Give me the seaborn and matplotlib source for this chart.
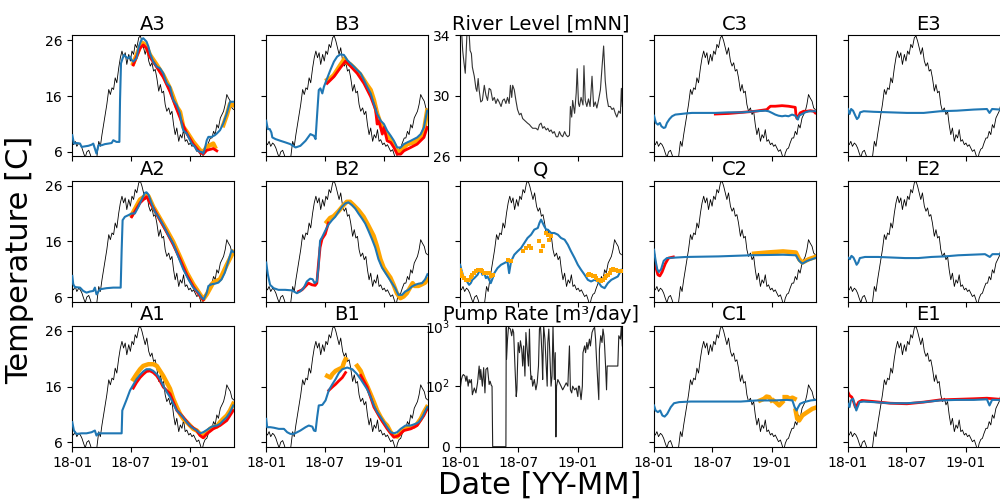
import numpy as np
import pandas as pd
import matplotlib
matplotlib.use("Agg")
import matplotlib.pyplot as plt
import matplotlib.dates as mdates
import matplotlib.ticker as mticker
import seaborn as sns

START = pd.Timestamp("2018-01-01")
END = pd.Timestamp("2019-05-17")

# ---------------- data (day offsets from 2018-01-01) ----------------
air_days = [0,4,9,14,20,25,30,35,40,45,51,56,61,66,71,76,82,87,92,97,102,107,113,118,123,128,133,138,144,149,
            154,159,164,169,175,180,185,190,195,200,206,211,216,221,226,231,237,242,247,252,257,262,268,273,278,283,288,293,299,304,
            309,314,319,324,330,335,340,345,350,355,361,366,371,376,381,386,392,397,402,407,412,417,422,428,433,438,443,448,453,459,
            464,469,474,479,484,490,495,500]
air_temp = [7.6,7.3,7.9,7.0,7.6,7.3,6.7,5.8,5.0,6.0,6.3,5.5,4.5,3.5,4.0,5.0,7.9,7.0,9.1,10.9,12.7,14.5,17.2,16.3,17.5,17.2,19.3,18.4,21.1,22.9,
            24.1,22.9,23.8,21.7,23.5,22.3,24.1,23.5,25.3,24.7,26.5,26.8,25.9,24.7,23.5,24.7,22.3,21.4,22.0,20.5,20.8,19.3,16.9,18.1,16.6,16.9,14.5,13.3,13.9,12.7,
            13.3,10.9,9.1,10.3,7.9,9.1,8.5,10.0,7.9,8.2,7.3,7.6,7.0,7.3,6.7,6.1,6.4,5.5,4.5,5.8,6.5,6.7,7.6,8.5,8.5,9.7,9.1,10.9,10.3,12.1,
            12.7,13.3,14.5,16.3,15.7,15.1,13.9,13.6]

river_days = [0,4,8,12,16,20,23,27,31,35,38,44,49,52,56,59,64,69,75,80,85,90,95,101,106,111,116,121,127,132,137,142,147,152,156,160,163,168,173,178,
              184,189,194,199,204,209,215,220,225,230,235,241,246,251,256,261,267,272,277,282,287,292,298,303,308,313,318,324,329,334,339,342,346,349,355,360,363,367,370,375,
              381,384,388,393,398,403,409,414,419,424,429,435,440,445,450,455,460,466,471,476,481,486,492,497,500,503]
river_level = [35.5,34.5,33.0,32.2,31.5,33.5,35.0,34.5,33.0,32.8,31.9,31.3,30.5,30.3,31.15,30.4,29.6,29.7,30.7,30.05,29.7,30.5,30.4,29.7,29.9,29.5,29.8,29.6,29.3,29.7,29.8,29.5,29.9,29.5,30.7,29.9,30.7,30.4,29.7,29.1,
               28.75,28.85,28.5,28.4,28.3,28.2,28.1,27.97,27.86,27.86,27.86,27.75,28.1,28.2,27.86,27.97,27.75,27.86,27.64,27.75,27.53,27.64,27.3,27.3,27.64,27.4,27.3,27.64,27.4,27.3,27.4,29.3,28.6,29.7,28.85,30.2,31.8,29.5,29.3,29.9,
               29.4,32.0,29.7,29.3,29.8,29.3,31.3,29.3,29.6,29.2,29.7,30.4,31.9,33.3,31.0,29.9,29.3,29.3,29.1,29.2,28.85,28.6,29.0,28.85,30.5,29.3]

pump_days = [0,4,7,10,15,18,21,25,28,31,35,38,44,49,54,59,62,64,69,73,77,80,85,90,93,97,99,101,142,143,144,147,150,156,160,163,166,170,174,176,
             180,184,187,191,194,197,201,204,207,212,215,218,220,222,225,230,235,239,243,246,249,251,254,256,259,263,267,270,272,275,278,282,285,288,292,295,297,299,303,308,
             313,318,324,329,334,339,342,346,349,355,360,365,367,370,375,379,381,386,389,393,396,401,404,409,413,417,420,423,427,430,432,436,440,443,446,448,451,454,456,489,
             492,497,500,503]
pump_rate = [93,126,144,153,144,118,144,99,126,111,126,85,96,88,111,212,126,186,99,199,88,186,199,104,118,100,99,0,0,940,274,597,940,880,680,880,770,212,82,93,
             525,355,560,405,212,460,144,770,460,212,880,186,126,144,99,126,93,111,212,880,1000,680,312,126,1000,597,212,99,525,880,355,99,144,1000,126,355,16,99,126,111,
             99,93,99,111,99,460,93,88,99,93,96,82,99,99,77,99,355,460,355,525,405,597,460,770,880,940,597,274,111,77,405,680,525,880,680,460,212,93,212,212,
             680,597,1000,460]

# A3
a3_blue_days = [0,5,13,24,29,39,50,60,65,70,75,81,91,101,112,122,127,137,146,148,151,156,160,166,172,179,184,189,194,199,205,210,215,220,225,230,236,241,251,262,
                272,282,293,303,308,313,324,334,339,344,349,355,360,365,370,375,380,386,396,401,406,411,417,422,432,442,448,458,468,479,489,499]
a3_blue_temp = [9.0,7.5,7.6,7.5,6.9,7.0,7.1,7.3,7.5,6.6,5.7,7.2,7.2,7.4,7.5,7.6,8.1,7.8,7.8,15.3,21.9,22.8,23.4,23.1,22.8,23.1,22.5,22.2,22.5,22.8,24.6,25.5,26.2,26.4,26.1,25.8,24.9,23.7,22.2,21.3,
                21.0,20.1,18.3,17.7,16.5,15.3,14.4,12.9,11.1,9.9,9.6,9.3,8.7,8.1,7.5,7.2,6.9,6.3,6.0,6.0,5.7,6.6,8.1,8.7,8.7,9.0,9.3,9.9,11.1,12.9,15.0,15.0]
a3_orange_days = [189,210,220,230,241,262,282,303,324,334,344,355,375,396,406,417,437,442,
                  468,479,489,499]
a3_orange_temp = [21.9,24.9,25.5,24.9,23.4,21.6,19.8,17.4,14.1,13.2,10.5,9.6,7.8,6.3,6.0,6.9,7.5,6.9,
                  10.8,12.6,14.6,14.4]
a3_orange_seg = [1]*18 + [2]*4
a3_red_days = [189,210,220,230,241,262,282,303,324,339,355,375,396,406,417,437,448]
a3_red_temp = [21.6,24.6,25.2,24.6,23.0,21.2,19.4,16.8,13.6,11.4,9.3,7.4,5.9,5.6,6.3,6.6,6.2]

# A2
a2_blue_days = [0,3,8,24,34,44,55,65,70,75,86,106,127,150,153,156,163,174,184,194,205,215,225,230,236,246,256,267,282,298,
                313,329,344,360,375,391,401,408,417,422,432,442,453,463,473,484,494,499]
a2_blue_temp = [9.8,8.3,7.8,7.7,7.1,6.8,7.0,7.1,7.7,6.5,7.4,7.6,7.7,7.7,14.4,19.8,20.4,20.7,21.0,21.0,22.2,23.5,24.7,24.8,24.4,22.8,21.3,20.4,18.9,17.1,
                15.6,13.2,11.0,9.2,7.7,6.8,5.9,5.6,6.8,8.0,8.3,8.4,8.6,9.2,10.4,12.5,14.4,14.1]
a2_orange_days = [184,210,225,236,251,272,293,313,334,355,375,396,406,417,437,458,479,499]
a2_orange_temp = [20.7,23.5,24.1,24.1,22.2,20.1,18.0,15.9,13.2,10.4,8.3,6.5,5.6,6.5,8.6,9.2,11.8,14.1]
a2_red_days = [184,210,230,251,272,293,313,334,355,375,396,406]
a2_red_temp = [20.4,22.9,24.0,22.0,19.8,17.6,15.4,12.8,10.0,7.9,6.2,5.5]

# A1
a1_blue_days = [0,5,13,29,44,60,70,75,81,106,132,148,153,155,168,179,189,199,210,220,230,241,251,262,272,282,293,303,313,324,
                339,355,370,386,396,406,417,432,448,458,468,479,489,499]
a1_blue_temp = [9.6,8.1,7.5,7.6,7.6,7.8,8.1,7.2,7.6,7.6,7.6,7.6,7.6,11.7,13.6,15.3,16.3,17.3,18.1,18.7,19.1,19.1,18.8,18.2,17.3,16.1,15.0,14.1,12.9,11.7,
                10.8,9.6,8.7,8.1,7.6,7.8,8.2,8.8,9.0,9.3,9.9,10.5,11.4,12.6]
a1_orange_days = [189,199,210,220,236,251,262,272,282,293,303,313,324,334,344,355,365,375,386,396,406,417,427,437,448,458,468,479,489,499]
a1_orange_temp = [17.3,18.2,19.1,19.7,20.0,20.0,19.7,18.8,17.9,16.7,15.6,13.8,12.3,11.1,10.2,9.6,9.0,8.4,8.1,7.5,7.0,7.8,8.4,8.7,8.8,9.6,10.2,10.8,11.7,12.9]
a1_red_days = [189,199,210,220,230,241,251,262,272,282,303,324,344,365,386,396,406,417,437,458,479,499]
a1_red_temp = [15.7,16.7,17.6,18.2,18.7,18.8,18.5,17.9,17.0,15.9,14.7,11.7,10.5,9.0,8.1,7.2,6.8,7.5,8.4,9.0,9.9,11.7]

# B3
b3_blue_days = [0,5,11,16,19,29,44,60,75,91,106,122,137,148,153,158,163,168,174,179,189,199,210,220,230,241,251,261,272,282,
                293,303,313,324,334,344,355,365,375,386,396,406,417,427,437,448,458,468,479,489,499]
b3_blue_temp = [11.6,10.1,10.1,9.5,8.6,8.3,8.0,7.7,7.4,6.8,7.1,8.0,9.2,8.9,8.3,12.8,17.1,17.4,16.5,17.7,19.2,20.7,22.2,23.1,23.5,23.4,22.5,21.9,21.3,20.7,
                20.1,18.9,17.7,16.5,14.6,12.8,11.6,11.0,9.8,8.9,8.0,6.8,6.8,7.4,7.7,8.0,8.3,8.6,9.2,10.4,13.4]
b3_orange_days = [189,199,210,220,230,244,251,261,272,282,293,303,313,324,334,344,355,365,375,386,396,406,417,427,437,458,479,489,499]
b3_orange_temp = [18.9,19.2,19.8,20.7,21.6,22.8,22.0,21.7,21.1,20.5,19.8,18.9,18.0,17.1,15.3,12.9,11.0,9.8,9.2,8.3,7.4,6.2,5.9,6.8,7.4,7.7,8.6,9.8,13.4]
b3_red_days = [189,210,230,246,261,282,303,324,339,344,349,360,365,375,386,396,406,417,427,448,468,489,499]
b3_red_temp = [18.3,19.5,21.1,22.3,21.4,20.1,18.3,15.9,13.6,11.0,11.6,9.2,10.4,8.0,7.7,6.8,5.6,5.6,6.2,6.8,7.4,8.6,10.4]

# B2
b2_blue_days = [0,5,12,23,38,59,80,95,105,116,126,136,144,150,157,162,167,173,183,193,204,214,224,235,245,255,266,276,286,297,
                307,317,328,338,348,359,369,379,390,400,410,421,431,441,452,462,472,483,493,500]
b2_blue_temp = [12.2,10.1,8.2,7.6,7.3,7.3,7.2,6.7,7.0,7.6,8.8,9.3,9.2,8.5,8.8,11.3,16.1,16.7,17.9,19.0,19.8,20.4,21.3,22.2,22.8,23.0,22.5,21.9,21.0,20.1,
                19.2,17.9,16.4,14.9,12.8,11.3,10.4,9.5,8.5,7.6,6.4,6.4,7.0,7.3,7.9,8.2,8.4,8.5,9.2,10.1]
b2_red_days = [100,111,121,131,142,152,157,162,167,173,183,193]
b2_red_temp = [7.0,7.3,7.9,8.5,8.2,8.1,8.5,11.9,14.9,16.4,17.3,19.3]
b2_orange_days = [188,198,209,224,240,250,260,271,286,302,317,333,343,354,364,374,385,395,405,416,426,436,447,454,460,472,483,493,498]
b2_orange_temp = [19.5,20.2,20.5,21.4,22.5,23.1,23.1,22.5,21.6,20.4,18.8,17.0,15.2,12.8,11.3,10.4,9.5,8.2,6.7,5.8,6.1,6.7,7.8,8.5,8.0,8.0,8.3,8.6,9.2]

# B1
b1_blue_days = [0,3,13,24,39,55,65,75,86,96,106,122,132,143,148,153,158,163,174,184,194,205,215,225,236,251,267,282,293,303,
                313,324,334,344,355,365,375,386,396,406,417,432,448,463,473,484,494,499]
b1_blue_temp = [10.2,8.7,8.7,8.6,8.4,8.4,7.8,7.5,7.5,7.8,8.1,8.7,9.0,8.8,8.1,8.0,10.5,12.6,12.7,13.5,15.3,16.4,17.3,18.4,19.1,19.4,19.1,18.2,17.3,16.4,
                15.5,14.1,12.6,11.4,10.5,9.6,8.7,7.8,7.6,7.8,8.4,9.0,9.0,9.3,9.6,10.5,11.7,12.3]
b1_orange_days = [189,199,205,215,225,236,241,246,
                  282,293,303,313,324,334,344,355,365,375,386,396,406,417,427,448,458,468,479,489,498]
b1_orange_temp = [17.9,17.6,18.2,18.8,19.1,19.4,20.3,20.9,
                  19.7,18.8,17.3,16.1,14.6,13.2,11.7,10.5,9.6,9.0,7.8,7.2,7.0,7.8,8.4,8.7,8.8,9.3,10.2,11.4,12.3]
b1_orange_seg = [1]*8 + [2]*21
b1_red_days = [194,205,215,225,236,246,
               293,313,334,355,375,396,411,427,448,468,489,499]
b1_red_temp = [15.3,15.9,16.4,17.0,17.6,18.5,
               18.0,15.9,12.3,10.2,8.4,6.9,7.2,8.1,8.4,9.0,10.8,12.0]
b1_red_seg = [1]*6 + [2]*12

# Q
q_blue_days = [0,4,10,18,28,33,38,44,49,54,59,64,69,75,80,85,90,95,101,106,116,127,137,147,152,158,168,178,189,199,
               209,220,230,241,246,251,256,261,267,272,282,292,303,313,324,334,344,355,365,375,386,396,406,417,427,438,448,458,469,479,489,500]
q_blue_temp = [11.8,10.9,9.7,9.1,8.2,8.5,9.1,9.4,9.7,10.0,10.6,10.9,10.0,10.3,9.4,9.7,9.1,8.5,9.4,10.3,11.2,11.8,12.1,12.4,10.3,12.4,13.6,14.2,14.8,15.7,
               16.6,17.2,18.1,18.4,19.3,19.9,19.3,18.7,18.1,18.1,17.5,17.5,17.2,16.6,16.3,15.4,14.2,13.0,11.8,10.9,10.0,9.1,8.8,9.1,8.8,7.9,7.6,8.5,9.1,9.4,9.7,10.9]
q_orange_days = [0,3,7,11,18,23,28,33,38,44,49,54,59,64,69,75,80,85,90,95,101,
                 147,158,194,204,215,220,246,251,256,267,272,277,282,
                 396,401,406,412,417,422,427,433,438,443,448,453,458,464,469,474,479,484,489,495,500]
q_orange_temp = [10.9,10.3,9.7,9.4,9.1,9.0,9.1,9.6,10.0,10.3,10.6,10.8,10.9,10.8,10.6,10.3,10.3,10.4,10.3,9.7,10.0,
                 12.7,12.4,14.2,14.8,15.1,14.8,16.0,14.2,15.1,17.5,17.2,16.3,16.9,
                 10.0,10.1,10.0,9.8,9.7,9.4,9.1,9.0,8.8,9.0,9.4,9.7,10.0,10.4,10.9,11.0,10.9,10.8,10.6,10.6,10.6]

# C3
c3_blue_days = [0,6,12,18,23,30,35,40,48,56,66,82,97,118,149,190,231,273,314,345,355,366,376,386,397,407,417,428,438,443,446,450,459,469,479,500]
c3_blue_temp = [12.5,11.2,10.9,11.2,10.6,10.3,10.4,11.2,11.9,12.4,12.7,12.8,12.9,13.0,13.0,13.0,13.1,13.1,13.3,13.4,13.3,13.0,12.7,12.5,12.4,12.5,12.4,12.7,12.5,12.1,11.8,12.5,12.8,13.1,13.3,13.3]
c3_red_days = [190,231,273,314,350,355,361,376,397,417,438,440,443,448,453,464,474,485,495,500]
c3_red_temp = [12.8,12.9,13.1,13.3,13.6,13.9,14.2,14.2,14.3,14.2,14.0,12.7,12.0,12.4,13.0,13.3,13.3,13.4,13.3,13.0]

# C2
c2_blue_days = [0,5,10,15,22,30,40,100,200,300,400,440,450,460,475,500]
c2_blue_temp = [14.5,12.5,11.0,10.5,11.0,12.5,13.0,13.2,13.3,13.5,13.6,13.5,12.5,12.0,12.5,13.0]
c2_red_days = [0,5,12,18,25,35,45,60]
c2_red_temp = [13.5,11.5,10.0,9.8,10.5,12.0,13.0,13.2]
c2_orange_days = [310,350,400,440,450,460,480,500]
c2_orange_temp = [13.8,14.0,14.2,14.0,12.8,12.2,12.8,13.2]

# C1
c1_blue_days = [0,5,12,19,26,33,41,52,62,78,114,165,217,269,320,372,413,429,436,442,447,453,465,486,501]
c1_blue_temp = [12.6,11.7,11.4,11.7,10.8,10.6,11.1,12.3,13.0,13.2,13.3,13.3,13.3,13.3,13.5,13.5,13.6,13.5,12.3,11.7,12.3,12.9,13.2,13.5,13.6]
c1_orange_days = [329,341,349,357,364, 370,377,388,398, 405,413,421,429,436, 439,444,450,460,475,491,501]
c1_orange_temp = [13.5,13.8,14.2,14.1,13.5, 13.5,13.2,12.6,13.2, 14.1,14.1,13.8,14.0,13.8, 11.7,10.2,9.9,10.8,11.4,12.0,12.2]
c1_orange_seg = [1]*5 + [2]*4 + [3]*5 + [4]*7

# E3, E2, E1
e3_blue_days = [0,5,10,16,23,28,33,38,49,80,131,183,235,286,338,390,431,439,447,472,500]
e3_blue_temp = [13.7,12.8,13.7,13.4,12.5,11.9,12.2,13.1,13.3,13.2,13.1,13.0,13.0,13.3,13.4,13.6,13.7,13.0,13.7,13.6,13.6]
e2_blue_days = [0,6,11,17,22,27,32,37,53,94,135,177,218,259,301,342,383,425,440,448,472,500]
e2_blue_temp = [13.1,12.8,13.4,13.1,12.5,11.8,12.2,13.0,13.2,13.2,13.1,13.0,13.0,13.2,13.3,13.5,13.6,13.7,13.2,13.7,13.7,13.7]
e1_blue_days = [0,5,9,16,20,26,30,36,49,80,131,183,235,286,338,390,431,439,447,472,500]
e1_blue_temp = [12.9,12.3,13.5,13.8,12.9,11.7,12.3,13.2,13.3,13.2,13.0,13.0,13.2,13.5,13.6,13.6,13.7,12.6,13.6,13.6,13.6]
e1_red_days = [0,5,12,18,23,28,33,43,80,131,183,235,286,338,390,431,452,472,500]
e1_red_temp = [15.0,14.4,14.1,13.2,12.3,12.6,13.2,13.5,13.3,13.0,12.9,13.2,13.6,13.7,13.8,13.9,13.8,13.7,13.7]

titles = [["A3", "B3", "River Level [mNN]", "C3", "E3"],
          ["A2", "B2", "Q", "C2", "E2"],
          ["A1", "B1", "Pump Rate [m\u00b3/day]", "C1", "E1"]]
temp_ticks = [6, 16, 26]
river_ticks = [26, 30, 34]
pump_ticks = [0, 100, 1000]
date_ticks = ["2018-01-01", "2018-07-01", "2019-01-01"]

BLUE = "#1f77b4"
ORANGE = "orange"
RED = "red"


def dates(days):
    return START + pd.to_timedelta(np.asarray(days), unit="D")


def line(ax, days, vals, color, lw, units=None, z=2):
    df = pd.DataFrame({"date": dates(days), "val": vals})
    if units is not None:
        df["seg"] = units
        sns.lineplot(data=df, x="date", y="val", units="seg", estimator=None, sort=False,
                     color=color, linewidth=lw, ax=ax, legend=False, zorder=z)
    else:
        sns.lineplot(data=df, x="date", y="val", estimator=None, sort=False,
                     color=color, linewidth=lw, ax=ax, legend=False, zorder=z)


fig, axes = plt.subplots(3, 5, figsize=(10, 4.99), dpi=100)
fig.subplots_adjust(left=0.0723, right=1.0095, bottom=0.1048, top=0.929, wspace=0.2, hspace=0.2)

series = {
    (0, 0): dict(blue=(a3_blue_days, a3_blue_temp), orange=(a3_orange_days, a3_orange_temp, a3_orange_seg),
                 red=(a3_red_days, a3_red_temp)),
    (1, 0): dict(blue=(a2_blue_days, a2_blue_temp), orange=(a2_orange_days, a2_orange_temp), red=(a2_red_days, a2_red_temp)),
    (2, 0): dict(blue=(a1_blue_days, a1_blue_temp), orange=(a1_orange_days, a1_orange_temp), red=(a1_red_days, a1_red_temp)),
    (0, 1): dict(blue=(b3_blue_days, b3_blue_temp), orange=(b3_orange_days, b3_orange_temp), red=(b3_red_days, b3_red_temp)),
    (1, 1): dict(blue=(b2_blue_days, b2_blue_temp), orange=(b2_orange_days, b2_orange_temp), red=(b2_red_days, b2_red_temp)),
    (2, 1): dict(blue=(b1_blue_days, b1_blue_temp), orange=(b1_orange_days, b1_orange_temp, b1_orange_seg),
                 red=(b1_red_days, b1_red_temp, b1_red_seg)),
    (0, 3): dict(blue=(c3_blue_days, c3_blue_temp), red=(c3_red_days, c3_red_temp)),
    (1, 3): dict(blue=(c2_blue_days, c2_blue_temp), orange=(c2_orange_days, c2_orange_temp), red=(c2_red_days, c2_red_temp)),
    (2, 3): dict(blue=(c1_blue_days, c1_blue_temp), orange=(c1_orange_days, c1_orange_temp, c1_orange_seg)),
    (0, 4): dict(blue=(e3_blue_days, e3_blue_temp)),
    (1, 4): dict(blue=(e2_blue_days, e2_blue_temp)),
    (2, 4): dict(blue=(e1_blue_days, e1_blue_temp), red=(e1_red_days, e1_red_temp)),
}

for r in range(3):
    for c in range(5):
        ax = axes[r, c]
        if (r, c) == (0, 2):
            line(ax, river_days, river_level, "#333333", 0.8)
            ax.set_ylim(26, 34)
            ax.set_yticks(river_ticks)
        elif (r, c) == (2, 2):
            line(ax, pump_days, pump_rate, "#222222", 0.8)
            ax.set_yscale("symlog", linthresh=100, linscale=0.92)
            ax.set_ylim(0, 1000)
            ax.set_yticks(pump_ticks)
            ax.yaxis.set_minor_locator(mticker.NullLocator())
        else:
            line(ax, air_days, air_temp, "black", 0.6, z=1)
            if (r, c) == (1, 2):
                line(ax, q_blue_days, q_blue_temp, BLUE, 1.5, z=3)
                sns.scatterplot(x=dates(q_orange_days), y=q_orange_temp, ax=ax, color=ORANGE,
                                marker="s", s=5, linewidth=0, zorder=4, legend=False)
            else:
                s = series[(r, c)]
                if "orange" in s:
                    o = s["orange"]
                    line(ax, o[0], o[1], ORANGE, 3.2, units=o[2] if len(o) > 2 else None, z=2)
                if "red" in s:
                    o = s["red"]
                    line(ax, o[0], o[1], RED, 2.0, units=o[2] if len(o) > 2 else None, z=2.5)
                b = s["blue"]
                line(ax, b[0], b[1], BLUE, 1.5, z=3)
            ax.set_ylim(5.2, 26.9)
            ax.set_yticks(temp_ticks)
            if c != 0:
                ax.set_yticklabels([])
        ax.set_xlim(START, END)
        ax.set_xticks(pd.to_datetime(date_ticks))
        ax.xaxis.set_major_formatter(mdates.DateFormatter("%y-%m"))
        if r != 2:
            ax.set_xticklabels([])
        ax.set_xlabel("")
        ax.set_ylabel("")
        ax.set_title(titles[r][c], fontsize=14, pad=4)
        ax.tick_params(labelsize=10, length=3.5, width=0.8)

fig.text(0.02, 0.479, "Temperature [C]", rotation=90, ha="center", va="center", fontsize=22)
fig.text(0.54, 0.028, "Date [YY-MM]", ha="center", va="center", fontsize=22)

fig.savefig("out.png", dpi=100)
